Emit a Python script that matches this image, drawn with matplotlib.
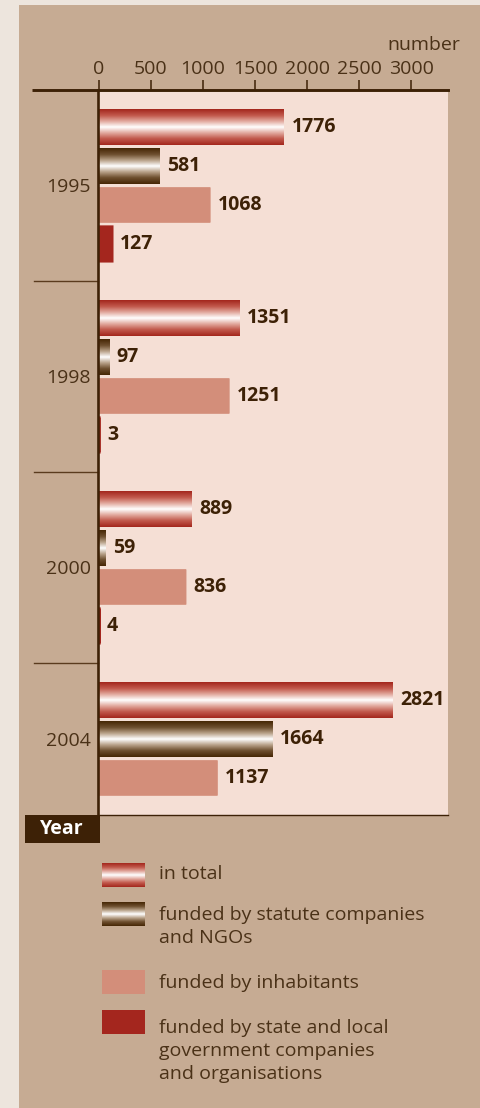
import numpy as np
import matplotlib
matplotlib.use('Agg')
import matplotlib.pyplot as plt
from matplotlib.colors import LinearSegmentedColormap
from matplotlib.patches import Rectangle
import matplotlib.transforms as mtransforms

# ---------------- data ----------------
years = ['1995', '1998', '2000', '2004']
in_total = [1776, 1351, 889, 2821]
statute_ngo = [581, 97, 59, 1664]
inhabitants = [1068, 1251, 836, 1137]
state_local = [127, 3, 4, None]
series_labels = ['in total',
                 'funded by statute companies\nand NGOs',
                 'funded by inhabitants',
                 'funded by state and local\ngovernment companies\nand organisations']
x_ticks = [0, 500, 1000, 1500, 2000, 2500, 3000]
x_axis_label = 'number'
y_axis_label = 'Year'

# ---------------- style ----------------
plt.rcParams['font.family'] = ['Open Sans', 'DejaVu Sans']
W, H = 480, 1108
OUTER = '#ede5dd'
PANEL = '#c6ab93'
PLOTBG = '#f5dfd5'
DARK = '#3d2106'
TEXT = '#4a3117'
FS = 14

cmap_total = LinearSegmentedColormap.from_list(
    'tot', [(0, '#a3261c'), (0.18, '#c25a4d'), (0.34, '#e2aa9f'), (0.5, '#ffffff'),
            (0.66, '#e2aa9f'), (0.82, '#c25a4d'), (1, '#a3261c')])
cmap_stat = LinearSegmentedColormap.from_list(
    'stat', [(0, '#452604'), (0.18, '#6f5030'), (0.34, '#b9a38a'), (0.5, '#ffffff'),
             (0.66, '#b9a38a'), (0.82, '#6f5030'), (1, '#452604')])
styles = [('grad', cmap_total, 0), ('grad', cmap_stat, 0),
          ('solid', '#d38e7a', 0.6), ('solid', '#a4261e', 1.8)]
series = [in_total, statute_ngo, inhabitants, state_local]

fig = plt.figure(figsize=(W / 100, H / 100), dpi=100, facecolor=OUTER)

# overlay axes in pixel coordinates for decorations
ov = fig.add_axes([0, 0, 1, 1], zorder=0)
ov.set_xlim(0, W)
ov.set_ylim(H, 0)
ov.axis('off')
ov.add_patch(Rectangle((19, 5), W - 19, H - 5, facecolor=PANEL, edgecolor='none', zorder=0))

# main axes
L, R, T, B = 97.7, 447.5, 90, 815
ax = fig.add_axes([L / W, 1 - B / H, (R - L) / W, (B - T) / H], zorder=2)
ax.set_facecolor(PLOTBG)

gap = 0.9
grad = np.linspace(0, 1, 256).reshape(-1, 1)
start = 0.0
bounds = [0.0]
centers = []
for g, yr in enumerate(years):
    vals = [(i, s[g]) for i, s in enumerate(series) if s[g] is not None]
    ys = []
    for k, (i, v) in enumerate(vals):
        yc = start + gap / 2 + k + 0.5
        ys.append(yc)
        kind, col, elw = styles[i]
        if kind == 'solid':
            bars = ax.barh(yc, v, height=0.89, color=col, edgecolor=col, linewidth=elw,
                           zorder=2)
            for p in bars:
                p.set_snap(False)
        else:
            bar = ax.barh(yc, v, height=0.905, facecolor='none', edgecolor='none', zorder=2)[0]
            x0, y0 = bar.get_x(), bar.get_y()
            im = ax.imshow(grad, cmap=col, aspect='auto', interpolation='bilinear',
                           extent=[x0, x0 + bar.get_width(), y0 + bar.get_height(), y0],
                           zorder=2)
            im.set_clip_path(bar)
        ax.annotate(f'{v}', (v, yc), xytext=(5.5, 0), textcoords='offset points',
                    ha='left', va='center', fontsize=FS, fontweight='bold', color=DARK,
                    zorder=3)
    centers.append(np.mean(ys))
    start += len(vals) + gap
    bounds.append(start)

ax.set_xlim(-13, 3350)
ax.set_ylim(start, 0)

ax.spines['right'].set_visible(False)
for sp in ['left', 'top', 'bottom']:
    ax.spines[sp].set_color(DARK)
    ax.spines[sp].set_zorder(2.5)
ax.spines['left'].set_linewidth(1.9)
ax.spines['top'].set_linewidth(2.1)
ax.spines['bottom'].set_linewidth(1.0)

ax.xaxis.tick_top()
ax.set_xticks(x_ticks)
ax.set_xticklabels([str(t) for t in x_ticks])
ax.tick_params(axis='x', top=True, bottom=False, labeltop=True, labelbottom=False,
               direction='out', length=7.5, width=1.1, color=DARK, pad=1.0,
               labelsize=FS, labelcolor=TEXT)
ax.set_yticks(centers)
ax.set_yticklabels(years)
ax.tick_params(axis='y', length=0, pad=5, labelsize=FS, labelcolor=TEXT)

# top axis line extension and group separators
bt = mtransforms.blended_transform_factory(ax.transAxes, ax.transData)
ax.plot([-(L - 32) / (R - L), 0], [1, 1], transform=ax.transAxes, color=DARK,
        lw=2.1, clip_on=False, solid_capstyle='butt')
for b in bounds[1:-1]:
    ax.plot([-(L - 34) / (R - L), 0], [b, b], transform=bt, color='#5a3b1e',
            lw=1.0, clip_on=False)

# axis labels
ov.text(460, 45, x_axis_label, ha='right', va='center', fontsize=FS, color=TEXT)
ov.add_patch(Rectangle((25, 815), 75, 28, facecolor=DARK, edgecolor='none', zorder=3))
ov.text(62, 829.5, y_axis_label, ha='center', va='center', fontsize=FS,
        fontweight='bold', color='white', zorder=4)

# legend
sw_y = [863, 902, 970, 1010]
tx_y = [865, 906, 974, 1019]
for i, lab in enumerate(series_labels):
    kind, col, _ = styles[i]
    if kind == 'solid':
        ov.add_patch(Rectangle((102, sw_y[i]), 43, 24, facecolor=col, edgecolor='none',
                               zorder=3))
    else:
        ov.imshow(grad, cmap=col, aspect='auto', interpolation='bilinear',
                  extent=[102, 145, sw_y[i] + 24, sw_y[i]], zorder=3)
    ov.text(159, tx_y[i], lab, ha='left', va='top', fontsize=FS, color=TEXT,
            linespacing=1.37, zorder=4)
ov.set_xlim(0, W)
ov.set_ylim(H, 0)

fig.savefig('out.png', dpi=100, facecolor=OUTER)
